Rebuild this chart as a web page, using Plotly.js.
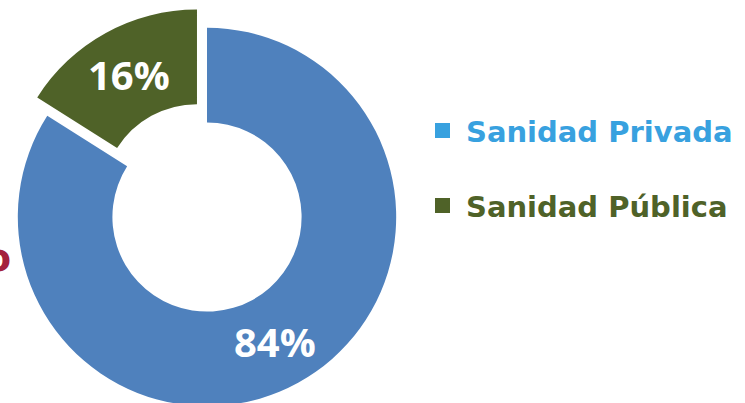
<!DOCTYPE html>
<html>
<head>
<meta charset="utf-8">
<script src="https://cdn.plot.ly/plotly-3.0.1.min.js"></script>
<style>
  html, body { margin: 0; padding: 0; width: 745px; height: 403px; overflow: hidden; background: #fff; }
  #chart { position: absolute; left: -50px; top: 0px; width: 850px; height: 500px; }
</style>
</head>
<body>
<div id="chart"></div>
<script>
const categories = ["Sanidad Privada", "Sanidad Pública"];
const shares = [84, 16];
const sliceColors = ["#4f81bd", "#4f6228"];
const legendColors = ["#38a1df", "#4f6228"];
const pulls = [0, 0.11];

const W = 850, H = 500, OFFX = 50, OFFY = 0;
const X = px => (px + OFFX) / W;
const Y = py => 1 - (py + OFFY) / H;

// pie box (page px)
const box = { x0: -3, x1: 417, y0: 7, y1: 427 };
const HOLE = 0.5;
const maxPull = Math.max(...pulls);
const cx = (box.x0 + box.x1) / 2, cy = (box.y0 + box.y1) / 2;
const R = Math.min(box.x1 - box.x0, box.y1 - box.y0) / 2 / (1 + maxPull);

const trace = {
  type: "pie",
  labels: categories,
  values: shares,
  hole: HOLE,
  sort: false,
  direction: "clockwise",
  rotation: 0,
  pull: pulls,
  marker: { colors: sliceColors, line: { width: 0 } },
  textinfo: "none",
  hoverinfo: "none",
  domain: { x: [X(box.x0), X(box.x1)], y: [Y(box.y1), Y(box.y0)] }
};

// data labels placed at each slice's mid-angle, mid-ring radius
const total = shares.reduce((a, b) => a + b, 0);
let cum = 0;
const annotations = [];
shares.forEach((v, i) => {
  const mid = (cum + v / 2) / total;
  cum += v;
  const th = mid * 2 * Math.PI;
  const rr = pulls[i] * R + R * (1 + HOLE) / 2;
  const px = cx + rr * Math.sin(th);
  const py = cy - rr * Math.cos(th);
  annotations.push({
    xref: "paper", yref: "paper",
    x: X(px), y: Y(py), xanchor: "center", yanchor: "middle",
    text: "<b>" + Math.round(v / total * 100) + "%</b>",
    showarrow: false,
    font: { family: "Open Sans", size: 40, color: "#ffffff" }
  });
});

categories.forEach((c, i) => {
  annotations.push({
    xref: "paper", yref: "paper",
    x: X(464), y: Y([132, 207][i]),
    xanchor: "left", yanchor: "middle",
    text: "<b>" + c + "</b>",
    showarrow: false,
    font: { family: "DejaVu Sans", size: 29, color: legendColors[i] }
  });
});
annotations.push({
  xref: "paper", yref: "paper",
  x: X(13), y: Y(258),
  xanchor: "right", yanchor: "middle",
  text: "<b>o</b>",
  showarrow: false,
  font: { family: "DejaVu Sans", size: 38, color: "#a3203f" }
});

const shapes = categories.map((c, i) => ({
  type: "rect", xref: "paper", yref: "paper",
  x0: X(435), x1: X(450),
  y0: Y([123, 198][i] + 15), y1: Y([123, 198][i]),
  fillcolor: legendColors[i], line: { width: 0 }
}));

const layout = {
  width: W, height: H,
  margin: { l: 0, r: 0, t: 0, b: 0 },
  paper_bgcolor: "#ffffff",
  showlegend: false,
  annotations: annotations,
  shapes: shapes
};

Plotly.newPlot("chart", [trace], layout, { displayModeBar: false, staticPlot: true });
</script>
</body>
</html>
